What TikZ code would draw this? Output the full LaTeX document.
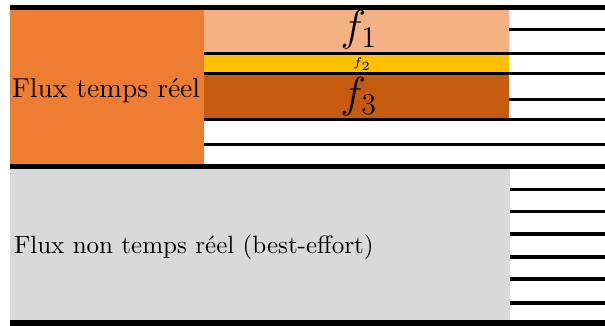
\documentclass[tikz,border=0pt]{standalone}
\usepackage{amsmath}
\usepackage{tikz}

\definecolor{rtorange}{HTML}{ED7D31}
\definecolor{fone}{HTML}{F4B183}
\definecolor{ftwo}{HTML}{FFC000}
\definecolor{fthree}{HTML}{C55A11}
\definecolor{begrey}{HTML}{D9D9D9}

\begin{document}
\begin{tikzpicture}[x=0.01404cm, y=-0.01404cm]
    \tikzstyle{bigline} = [draw, black, line width=2pt]
    \tikzstyle{slotline} = [draw, black, line width=1.2pt]
    \tikzstyle{flowlabel} = [inner sep=1pt]

    \useasboundingbox (0,0) rectangle (605,326);

    % Boxes
    \fill[rtorange] (10,9) rectangle (204,166);
    \fill[fone] (204,9) rectangle (509,53);
    \fill[ftwo] (204,54) rectangle (509,73);
    \fill[fthree] (204,74) rectangle (509,120);
    \fill[begrey] (10,167) rectangle (510,322);

    % Labels
    \node[flowlabel] (rt) at (106,91) {\fontsize{10.95}{13}\selectfont Flux temps réel};
    \node[flowlabel] (f1) at (359,30) {\LARGE $f_1$};
    \node[flowlabel] (f2) at (362,64) {\tiny $f_2$};
    \node[flowlabel] (f3) at (359,97) {\LARGE $f_3$};
    \node[flowlabel, anchor=west] (be) at (11,247) {Flux non temps réel (best-effort)};

    % Slots of the real-time part
    \foreach \y in {53.5,73.5,120,145} {
        \draw[slotline] (204,\y) -- (605,\y);
    }
    \foreach \y in {30,100} {
        \draw[slotline] (509,\y) -- (605,\y);
    }

    % Slots of the best-effort part
    \foreach \y in {190,212,234,257,279,303} {
        \draw[slotline] (510,\y) -- (605,\y);
    }

    % Frame lines
    \foreach \y in {7.5,166.5,323} {
        \draw[bigline] (10,\y) -- (605,\y);
    }
\end{tikzpicture}
\end{document}
